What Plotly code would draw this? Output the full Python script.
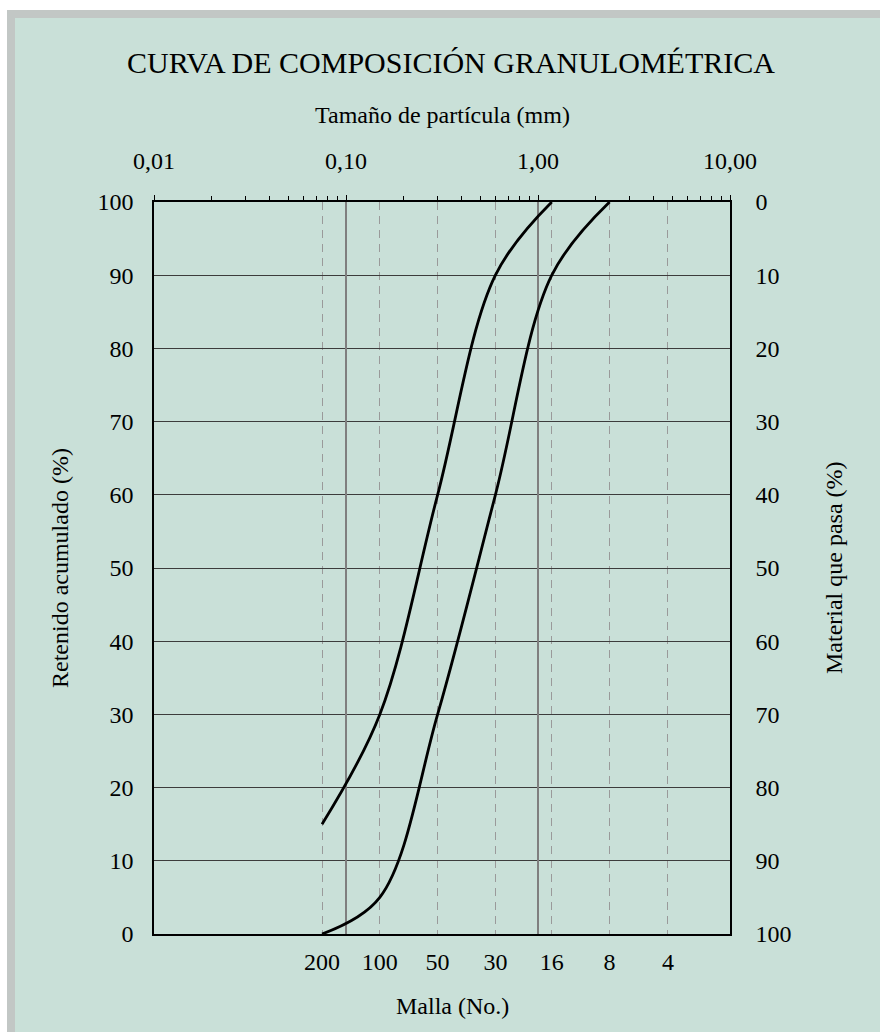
import plotly.graph_objects as go

# ---- data ----
sieve_mm = [0.075, 0.15, 0.3, 0.6, 1.18, 2.36, 4.75]
sieve_no = ["200", "100", "50", "30", "16", "8", "4"]

fine_size = [0.075, 0.15, 0.3, 0.6, 1.18]
fine_ret = [15, 30, 60, 90, 100]

coarse_size = [0.075, 0.15, 0.3, 0.6, 1.18, 2.36]
coarse_ret = [0, 5, 30, 60, 90, 100]

top_vals = [0.01, 0.1, 1, 10]
top_text = ["0,01", "0,10", "1,00", "10,00"]

y_vals = list(range(0, 101, 10))
y_right_text = [str(v) for v in y_vals]

FONT = "Liberation Serif"
GREEN = "rgb(201,224,216)"
GRAY = "rgb(194,199,197)"

W, H = 880, 1032
L, R, T, B = 154, 730, 202, 934


def px(x):
    return (x - L) / (R - L)


def py(y):
    return (B - y) / (B - T)


fig = go.Figure()
for xs, ys in [(fine_size, fine_ret), (coarse_size, coarse_ret)]:
    fig.add_trace(go.Scatter(x=xs, y=ys, mode="lines",
                             line=dict(color="black", width=2.8, shape="spline", smoothing=1.0),
                             showlegend=False, hoverinfo="x+y"))

fig.update_layout(
    width=W, height=H,
    margin=dict(l=L, r=W - R, t=T, b=H - B, pad=0),
    paper_bgcolor="white",
    plot_bgcolor=GREEN,
    font=dict(family=FONT, size=24, color="black"),
    showlegend=False,
    xaxis=dict(type="log", range=[-2, 1], tickmode="array", tickvals=sieve_mm, ticktext=sieve_no,
               ticks="", showgrid=True, gridcolor="#9a9a9a", gridwidth=1.4, griddash="8px,6px",
               showline=True, linecolor="black", linewidth=1.5, zeroline=False,
               tickfont=dict(family=FONT, size=24), ticklabelstandoff=5),
    xaxis2=dict(type="log", range=[-2, 1], overlaying="x", side="top", anchor="y",
                tickmode="array", tickvals=top_vals, ticktext=top_text,
                ticks="outside", ticklen=5, tickcolor="black", tickwidth=1.2,
                minor=dict(ticks="outside", ticklen=4, tickcolor="black", tickwidth=1, dtick="D1", showgrid=False),
                showgrid=True, gridcolor="#7f7f7f", gridwidth=1.6,
                showline=True, linecolor="black", linewidth=1.5, zeroline=False,
                tickfont=dict(family=FONT, size=24), ticklabelstandoff=17),
    yaxis=dict(range=[0, 100], tickmode="array", tickvals=y_vals, ticks="",
               showgrid=True, gridcolor="#3c3c3c", gridwidth=1.2,
               showline=True, linecolor="black", linewidth=1.5, zeroline=False,
               tickfont=dict(family=FONT, size=24), ticklabelstandoff=14),
    yaxis2=dict(range=[100, 0], overlaying="y", side="right", anchor="x",
                tickmode="array", tickvals=y_vals, ticktext=y_right_text, ticks="",
                showgrid=False, showline=True, linecolor="black", linewidth=1.5, zeroline=False,
                tickfont=dict(family=FONT, size=24), ticklabelstandoff=19),
)

# invisible helper traces so the secondary axes are drawn
fig.add_trace(go.Scatter(x=top_vals, y=[None] * len(top_vals), xaxis="x2", yaxis="y",
                         mode="lines", showlegend=False, hoverinfo="skip"))
fig.add_trace(go.Scatter(x=[None] * len(y_vals), y=y_vals, xaxis="x", yaxis="y2",
                         mode="lines", showlegend=False, hoverinfo="skip"))

# background frame
fig.add_shape(type="rect", xref="paper", yref="paper", layer="below",
              x0=px(7), x1=px(W + 5), y0=py(10), y1=py(H + 5), fillcolor=GRAY, line_width=0)
fig.add_shape(type="rect", xref="paper", yref="paper", layer="below",
              x0=px(15), x1=px(W + 5), y0=py(18), y1=py(H + 5), fillcolor=GREEN, line_width=0)

ann = [
    dict(text="CURVA DE COMPOSICIÓN GRANULOMÉTRICA", x=px(451), y=py(62), size=30, angle=0),
    dict(text="Tamaño de partícula (mm)", x=px(442), y=py(115), size=24, angle=0),
    dict(text="Malla (No.)", x=px(452), y=py(1006), size=24, angle=0),
    dict(text="Retenido acumulado (%)", x=px(60), y=py(568), size=24, angle=-90),
    dict(text="Material que pasa (%)", x=px(834), y=py(568), size=24, angle=-90),
]
for a in ann:
    fig.add_annotation(text=a["text"], x=a["x"], y=a["y"], xref="paper", yref="paper",
                       xanchor="center", yanchor="middle", showarrow=False, textangle=a["angle"],
                       font=dict(family=FONT, size=a["size"], color="black"))

fig.write_html("out.html", config={"displayModeBar": False},
               post_script="document.body.style.margin='0';")
